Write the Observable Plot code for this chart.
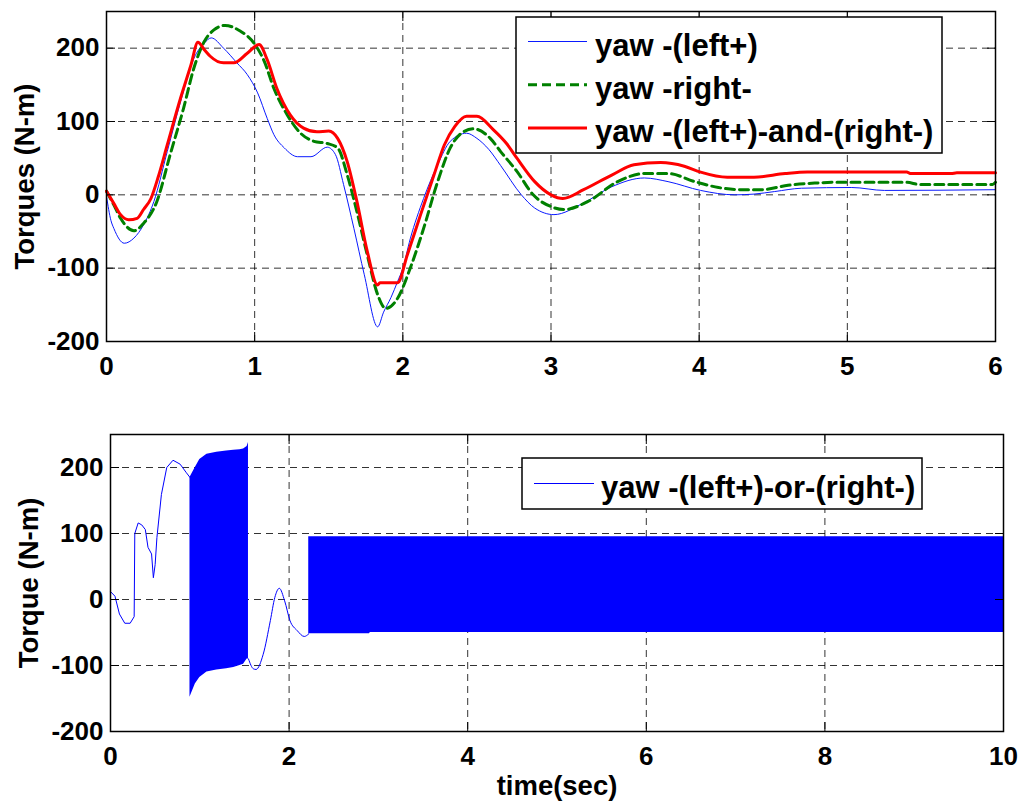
<!DOCTYPE html>
<html>
<head>
<meta charset="utf-8">
<script src="https://cdn.jsdelivr.net/npm/d3@7"></script>
<script src="https://cdn.jsdelivr.net/npm/@observablehq/plot@0.6"></script>
<style>
  html, body { margin: 0; padding: 0; background: #fff; }
  #wrap { position: relative; width: 1021px; height: 803px; overflow: hidden; }
  .chart { position: absolute; left: 0; }
</style>
</head>
<body>
<div id="wrap"></div>
<script>
// ---------- Tick values ----------
const xTicksTop = [0, 1, 2, 3, 4, 5, 6];
const xTicksBottom = [0, 2, 4, 6, 8, 10];
const yTicks = [-200, -100, 0, 100, 200];

// ---------- Top panel series ----------
const blueT = [0.00, 0.03, 0.05, 0.12, 0.185, 0.25, 0.32, 0.41, 0.50, 0.59, 0.66, 0.707, 0.79, 0.88, 0.95, 1.02, 1.085, 1.13, 1.20, 1.29, 1.38, 1.49, 1.545, 1.60, 1.67, 1.74, 1.83, 1.87, 1.92, 1.965, 2.00, 2.05, 2.14, 2.235, 2.32, 2.43, 2.50, 2.58, 2.66, 2.80, 2.89, 3.02, 3.22, 3.41, 3.63, 3.79, 4.01, 4.24, 4.37, 4.51, 4.69, 5.03, 5.25, 6.00];
const blueV = [-2, -35, -46, -66, -59, -41, -9, 59, 127, 186, 207, 214, 200, 180, 164, 139, 104, 82, 64, 52, 52, 65, 55, 14, -46, -109, -180, -160, -140, -118, -100, -60, -5, 41, 73, 84, 77, 62, 40, 0, -18, -27, -11, 11, 23, 18, 6, 0, 1, 4.5, 9, 10, 6, 7];

const greenT = [0.00, 0.05, 0.095, 0.185, 0.25, 0.34, 0.43, 0.52, 0.59, 0.66, 0.725, 0.80, 0.905, 0.995, 1.065, 1.13, 1.22, 1.31, 1.40, 1.49, 1.56, 1.625, 1.69, 1.76, 1.83, 1.885, 1.965, 2.05, 2.14, 2.235, 2.32, 2.41, 2.48, 2.59, 2.66, 2.77, 2.88, 3.00, 3.09, 3.25, 3.45, 3.63, 3.79, 3.97, 4.13, 4.28, 4.42, 4.60, 4.78, 4.90, 5.40, 5.49, 5.98, 6.00];
const greenV = [5, -14, -32, -49, -39, -9, 55, 118, 173, 209, 225, 231, 223, 207, 182, 145, 109, 84, 73, 70, 64, 27, -23, -82, -136, -155, -141, -100, -46, 18, 64, 86, 90, 77, 59, 32, 0, -16, -20, -9, 18, 29, 29, 18, 10, 7, 7, 13, 16, 17, 17, 14, 14, 17];

const redT = [0.00, 0.05, 0.095, 0.15, 0.207, 0.25, 0.30, 0.35, 0.41, 0.50, 0.57, 0.617, 0.66, 0.70, 0.79, 0.86, 0.95, 1.03, 1.085, 1.15, 1.24, 1.33, 1.42, 1.50, 1.56, 1.625, 1.69, 1.76, 1.83, 1.845, 1.965, 2.03, 2.12, 2.21, 2.28, 2.35, 2.43, 2.50, 2.61, 2.70, 2.77, 2.89, 3.00, 3.08, 3.22, 3.41, 3.56, 3.74, 3.90, 4.01, 4.19, 4.37, 4.58, 4.73, 5.40, 5.43, 5.70, 5.74, 6.00];
const redV = [5, -12, -27, -34, -32, -20, -5, 25, 68, 132, 177, 208, 198, 189, 180, 180, 193, 205, 184, 145, 109, 91, 86, 87, 77, 45, -9, -77, -123, -120, -120, -82, -27, 27, 68, 93, 107, 107, 89, 70, 50, 18, 0, -5, 7, 27, 41, 44, 39, 31, 24, 24, 29, 31, 31, 29, 29, 30, 30];

// ---------- Bottom panel series ----------
// smooth parts of the trace
const orAT = [0.00, 0.05, 0.10, 0.16, 0.22, 0.265, 0.272, 0.31, 0.35, 0.39, 0.42, 0.46, 0.48, 0.50, 0.52, 0.57, 0.63, 0.70, 0.78, 0.85, 0.89];
const orAV = [12, 5, -22, -36, -36, -26, 100, 116, 113, 106, 79, 69, 33, 53, 94, 159, 200, 211, 205, 192, 185];
const orBT = [1.545, 1.60, 1.63, 1.71, 1.79, 1.84, 1.89, 1.95, 2.01, 2.09, 2.17, 2.22];
const orBV = [-90, -105, -106, -83, -32, 3, 17, -2, -32, -47, -56, -52];
// envelopes of the fast switching (chattering) bursts
const burst1T = [0.89, 0.95, 1.00, 1.08, 1.19, 1.30, 1.38, 1.45, 1.49, 1.53, 1.545];
const burst1Hi = [185, 200, 212, 220, 223, 225, 226, 227, 228, 232, 238];
const burst1Lo = [-148, -128, -118, -110, -107, -105, -103, -100, -98, -90, -90];
const burst2T = [2.22, 2.90, 2.91, 10.0];
const burst2Hi = [95, 95, 95, 95];
const burst2Lo = [-52, -52, -50, -50];

// ---------- Legends ----------
const legendTopLabels = ["yaw -(left+)", "yaw -right-", "yaw -(left+)-and-(right-)"];
const legendBottomLabels = ["yaw -(left+)-or-(right-)"];

const rows = (ts, vs) => ts.map((t, i) => ({t, v: vs[i]}));
const band = (ts, lo, hi) => ts.map((t, i) => ({t, lo: lo[i], hi: hi[i]}));

const FONT = "'Liberation Sans', Arial, Helvetica, sans-serif";
const gridStyle = {stroke: "#000", strokeOpacity: 0.8, strokeWidth: 1, strokeDasharray: "7,5"};
const fmt = d => String(d);
const TICK_FS = 26;
const TITLE_FS = 27.5;

function chrome(xTicks) {
  return [
    Plot.gridX(xTicks, gridStyle),
    Plot.gridY(yTicks, gridStyle)
  ];
}
function axes(xTicks) {
  return [
    Plot.axisX(xTicks, {anchor: "bottom", tickSize: -9, fill: "none", label: null}),
    Plot.axisX(xTicks, {anchor: "top", tickSize: -9, fill: "none", label: null}),
    Plot.axisY(yTicks, {anchor: "left", tickSize: -9, fill: "none", label: null}),
    Plot.axisY(yTicks, {anchor: "right", tickSize: -9, fill: "none", label: null}),
    Plot.axisX(xTicks, {anchor: "bottom", tickSize: 0, tickPadding: 15, label: null, tickFormat: fmt, fontSize: TICK_FS, fontWeight: "bold", fill: "#000"}),
    Plot.axisY(yTicks, {anchor: "left", tickSize: 0, tickPadding: 7, label: null, tickFormat: fmt, fontSize: TICK_FS, fontWeight: "bold", fill: "#000"}),
    Plot.frame({stroke: "#000", strokeWidth: 1.5})
  ];
}
function yTitle(label, dx) {
  return Plot.text([label], {frameAnchor: "left", dx, rotate: -90, textAnchor: "middle", lineAnchor: "middle", fontSize: TITLE_FS, fontWeight: "bold", fill: "#000"});
}

const wrap = document.getElementById("wrap");

const topChart = Plot.plot({
  width: 1021, height: 400,
  marginLeft: 106, marginRight: 26, marginTop: 11, marginBottom: 59,
  style: {fontFamily: FONT, fontSize: "25px", fontWeight: "bold", background: "transparent", overflow: "visible"},
  x: {domain: [0, 6]},
  y: {domain: [-200, 250]},
  marks: [
    ...chrome(xTicksTop),
    Plot.line(rows(blueT, blueV), {x: "t", y: "v", stroke: "#0a1aff", strokeWidth: 1, curve: "monotone-x"}),
    Plot.line(rows(greenT, greenV), {x: "t", y: "v", stroke: "#008000", strokeWidth: 3, strokeDasharray: "9,5", curve: "monotone-x"}),
    Plot.line(rows(redT, redV), {x: "t", y: "v", stroke: "#ff0000", strokeWidth: 3, curve: "monotone-x"}),
    ...axes(xTicksTop),
    yTitle("Torques (N-m)", -81)
  ]
});
topChart.classList.add("chart");
topChart.style.top = "0px";
wrap.appendChild(topChart);

const bottomChart = Plot.plot({
  width: 1021, height: 403,
  marginLeft: 110, marginRight: 18, marginTop: 34, marginBottom: 72,
  style: {fontFamily: FONT, fontSize: "25px", fontWeight: "bold", background: "transparent", overflow: "visible"},
  x: {domain: [0, 10]},
  y: {domain: [-200, 250]},
  marks: [
    ...chrome(xTicksBottom),
    Plot.areaY(band(burst1T, burst1Lo, burst1Hi), {x: "t", y1: "lo", y2: "hi", fill: "#0000ff", curve: "linear"}),
    Plot.areaY(band(burst2T, burst2Lo, burst2Hi), {x: "t", y1: "lo", y2: "hi", fill: "#0000ff", curve: "linear"}),
    Plot.line(rows(orAT, orAV), {x: "t", y: "v", stroke: "#0000ff", strokeWidth: 1}),
    Plot.line(rows(orBT, orBV), {x: "t", y: "v", stroke: "#0000ff", strokeWidth: 1, curve: "monotone-x"}),
    ...axes(xTicksBottom),
    yTitle("Torque (N-m)", -81),
    Plot.text(["time(sec)"], {frameAnchor: "bottom", dy: 55, textAnchor: "middle", lineAnchor: "middle", fontSize: TITLE_FS, fontWeight: "bold", fill: "#000"})
  ]
});
bottomChart.classList.add("chart");
bottomChart.style.top = "400px";
wrap.appendChild(bottomChart);

// ---------- Legend overlay ----------
const overlay = d3.select(wrap).append("svg")
  .attr("width", 1021).attr("height", 803)
  .style("position", "absolute").style("left", "0px").style("top", "0px")
  .style("font-family", FONT);

function drawLegend(box, entries) {
  const g = overlay.append("g");
  g.append("rect")
    .attr("x", box.x).attr("y", box.y).attr("width", box.w).attr("height", box.h)
    .attr("fill", "#fff").attr("stroke", "#000").attr("stroke-width", 1.5);
  entries.forEach((e, i) => {
    const base = box.firstBase + i * box.step;
    g.append("line")
      .attr("x1", box.lineX1).attr("x2", box.lineX2)
      .attr("y1", base - 14).attr("y2", base - 14)
      .attr("stroke", e.color).attr("stroke-width", e.width)
      .attr("stroke-dasharray", e.dash || null);
    g.append("text")
      .attr("x", box.textX).attr("y", base)
      .attr("font-size", 31).attr("font-weight", "bold").attr("fill", "#000")
      .text(e.label);
  });
}

drawLegend(
  {x: 516, y: 17, w: 426, h: 136, firstBase: 55.5, step: 43.3, lineX1: 528, lineX2: 587, textX: 595},
  [
    {label: legendTopLabels[0], color: "#0a1aff", width: 1},
    {label: legendTopLabels[1], color: "#008000", width: 3, dash: "9,5"},
    {label: legendTopLabels[2], color: "#ff0000", width: 3}
  ]
);
drawLegend(
  {x: 522, y: 458, w: 400, h: 51, firstBase: 497.5, step: 0, lineX1: 534, lineX2: 594, textX: 601},
  [
    {label: legendBottomLabels[0], color: "#0000ff", width: 1}
  ]
);
</script>
</body>
</html>
